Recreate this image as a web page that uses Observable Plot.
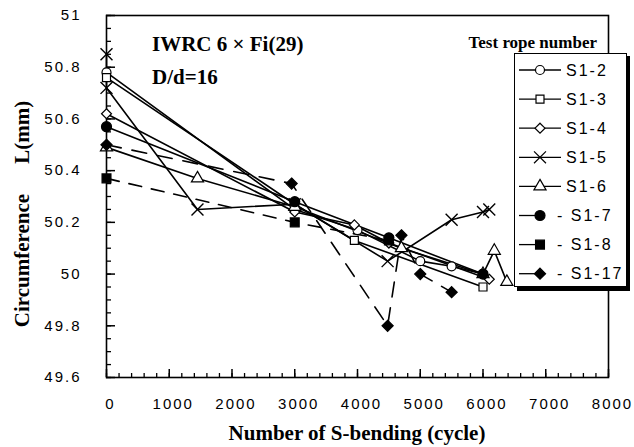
<!DOCTYPE html>
<html><head><meta charset="utf-8">
<script src="https://cdn.jsdelivr.net/npm/d3@7"></script>
<script src="https://cdn.jsdelivr.net/npm/@observablehq/plot@0.6"></script>
<style>html,body{margin:0;padding:0;background:#fff;overflow:hidden}#chart svg{display:block}</style>
</head><body><div id="chart"></div>
<script>
// ---- data ----
const seriesNames = ["S1-2","S1-3","S1-4","S1-5","S1-6","S1-7","S1-8","S1-17"];
const cyclesS1_2 = [0,3000,4000,5000,5500,6000];
const circS1_2   = [50.78,50.25,50.17,50.05,50.03,50.00];
const cyclesS1_3 = [0,3000,3950,6000];
const circS1_3   = [50.76,50.27,50.13,49.95];
const cyclesS1_4 = [0,3000,3950,4500,6100];
const circS1_4   = [50.62,50.24,50.19,50.12,49.98];
const cyclesS1_5 = [0,0,1450,3000,4480,5500,6000,6100];
const circS1_5   = [50.85,50.72,50.25,50.27,50.05,50.21,50.24,50.25];
const cyclesS1_6 = [0,1450,3000,4700,6000,6180,6380];
const circS1_6   = [50.49,50.37,50.26,50.10,50.00,50.09,49.97];
const cyclesS1_7 = [0,3000,4500,6000];
const circS1_7   = [50.57,50.28,50.14,50.00];
const cyclesS1_8 = [0,3000,4500];
const circS1_8   = [50.37,50.20,50.13];
const cyclesS1_17 = [0,2950,4480,4700,5000,5500];
const circS1_17   = [50.50,50.35,49.80,50.15,50.00,49.93];
const xTickVals = [0,1000,2000,3000,4000,5000,6000,7000,8000];
const yTickVals = [49.6,49.8,50,50.2,50.4,50.6,50.8,51];

const seriesData = {
  "S1-2": [cyclesS1_2, circS1_2], "S1-3": [cyclesS1_3, circS1_3],
  "S1-4": [cyclesS1_4, circS1_4], "S1-5": [cyclesS1_5, circS1_5],
  "S1-6": [cyclesS1_6, circS1_6], "S1-7": [cyclesS1_7, circS1_7],
  "S1-8": [cyclesS1_8, circS1_8], "S1-17": [cyclesS1_17, circS1_17]
};
// ---- styles ----
const styles = {
  "S1-2": {symbol:"circle", filled:false, dash:null},
  "S1-3": {symbol:"square", filled:false, dash:null},
  "S1-4": {symbol:"diamond2", filled:false, dash:null},
  "S1-5": {symbol:"times", filled:false, dash:null},
  "S1-6": {symbol:"triangle", filled:false, dash:null},
  "S1-7": {symbol:"circle", filled:true, dash:null},
  "S1-8": {symbol:"square", filled:true, dash:"13,10"},
  "S1-17": {symbol:"diamond2", filled:true, dash:"15,11"}
};
const drawOrder = ["S1-2","S1-3","S1-4","S1-5","S1-6","S1-8","S1-7","S1-17"];

const W = 634, H = 447, mL = 106, mR = 26, mT = 15, mB = 70;
const innerW = W - mL - mR, innerH = H - mT - mB;

const rows = name => seriesData[name][0].map((x,i) => ({x, y: seriesData[name][1][i]}));

const xMinor = d3.range(0, 8001, 200);
const yMinor = d3.range(49.6, 51.001, 0.05).map(v => +v.toFixed(2));

const marks = [];
marks.push(Plot.frame({stroke:"black", strokeWidth:1.6}));
marks.push(Plot.tickX(xMinor, {x:d=>d, insetTop: innerH-4, stroke:"black", strokeWidth:1.3}));
marks.push(Plot.tickX(xTickVals, {x:d=>d, insetTop: innerH-8, stroke:"black", strokeWidth:1.5}));
marks.push(Plot.tickY(yMinor, {y:d=>d, insetRight: innerW-5, stroke:"black", strokeWidth:1.3}));
marks.push(Plot.tickY(yTickVals, {y:d=>d, insetRight: innerW-9, stroke:"black", strokeWidth:1.5}));
marks.push(Plot.axisX(xTickVals, {tickSize:0, tickPadding:21, dx:4, tickFormat:d=>String(d)}));
marks.push(Plot.axisY(yTickVals, {tickSize:0, tickPadding:25, tickFormat:d=>String(+d.toFixed(1))}));
for (const n of seriesNames) {
  marks.push(Plot.line(rows(n), {x:"x", y:"y", stroke:"black", strokeWidth:1.6, strokeDasharray: styles[n].dash}));
}
for (const n of drawOrder) {
  const s = styles[n];
  marks.push(Plot.dot(rows(n), {x:"x", y:"y", symbol:s.symbol, r: s.filled ? 5 : (s.symbol==="times" ? 5.5 : 4.5),
    fill: s.symbol==="times" ? "none" : (s.filled ? "black" : "white"), stroke:"black", strokeWidth: s.symbol==="times"?1.4:1.2}));
}

const svg = Plot.plot({
  width: W, height: H, marginLeft: mL, marginRight: mR, marginTop: mT, marginBottom: mB,
  x: {domain:[0,8000], label:null},
  y: {domain:[49.6,51], label:null},
  style: {fontFamily:"'Liberation Sans', Arial, sans-serif", fontSize:"15px", letterSpacing:"2px", color:"black", background:"white"},
  marks
});
document.getElementById("chart").appendChild(svg);

// ---- titles & annotations ----
const g = d3.select(svg).append("g").attr("fill","black").style("letter-spacing","0px")
  .style("font-family","'Liberation Serif', 'Times New Roman', serif").style("font-weight","bold");
g.append("text").attr("x", (mL + W - mR)/2).attr("y", 440).attr("text-anchor","middle")
  .style("font-size","21px").text("Number of S-bending (cycle)");
const yt = g.append("text").attr("transform","translate(29,214) rotate(-90)").attr("text-anchor","middle")
  .style("font-size","21px");
yt.append("tspan").text("Circumference");
yt.append("tspan").attr("dx", 30).text("L(mm)");
g.append("text").attr("x",152).attr("y",51).attr("text-anchor","start").style("font-size","21px").text("IWRC 6 × Fi(29)");
g.append("text").attr("x",152).attr("y",84).attr("text-anchor","start").style("font-size","21px").text("D/d=16");
g.append("text").attr("x",597).attr("y",48).attr("text-anchor","end").style("font-size","17px").text("Test rope number");

// ---- legend ----
const symMap = {circle:d3.symbolCircle, square:d3.symbolSquare, diamond2:d3.symbolDiamond2, times:d3.symbolTimes, triangle:d3.symbolTriangle};
const lg = d3.select(svg).append("g");
lg.append("rect").attr("x",517).attr("y",56).attr("width",113).attr("height",235).attr("fill","black");
lg.append("rect").attr("x",514.5).attr("y",53.5).attr("width",112).attr("height",233).attr("fill","white").attr("stroke","black").attr("stroke-width",1);
const rowY = i => 70 + i*29.1;
seriesNames.forEach((n,i) => {
  const s = styles[n], y = rowY(i);
  const row = lg.append("g");
  row.append("line").attr("x1",519).attr("x2", s.filled ? 541 : 561).attr("y1",y).attr("y2",y).attr("stroke","black").attr("stroke-width",1.3);
  const r = s.filled ? 5 : (s.symbol==="times" ? 5.5 : 4.5);
  row.append("path").attr("d", d3.symbol(symMap[s.symbol], Math.PI*r*r)())
    .attr("transform",`translate(540,${y})`)
    .attr("fill", s.symbol==="times" ? "none" : (s.filled ? "black" : "white"))
    .attr("stroke","black").attr("stroke-width",1.2);
  row.append("text").attr("x", s.filled ? 557 : 566).attr("y", y).attr("dy","0.36em").attr("text-anchor","start")
    .style("font-family","'Liberation Sans', Arial, sans-serif").style("font-size","16px").style("letter-spacing","2px")
    .text(s.filled ? "- " + n : n);
});
</script>
</body></html>
